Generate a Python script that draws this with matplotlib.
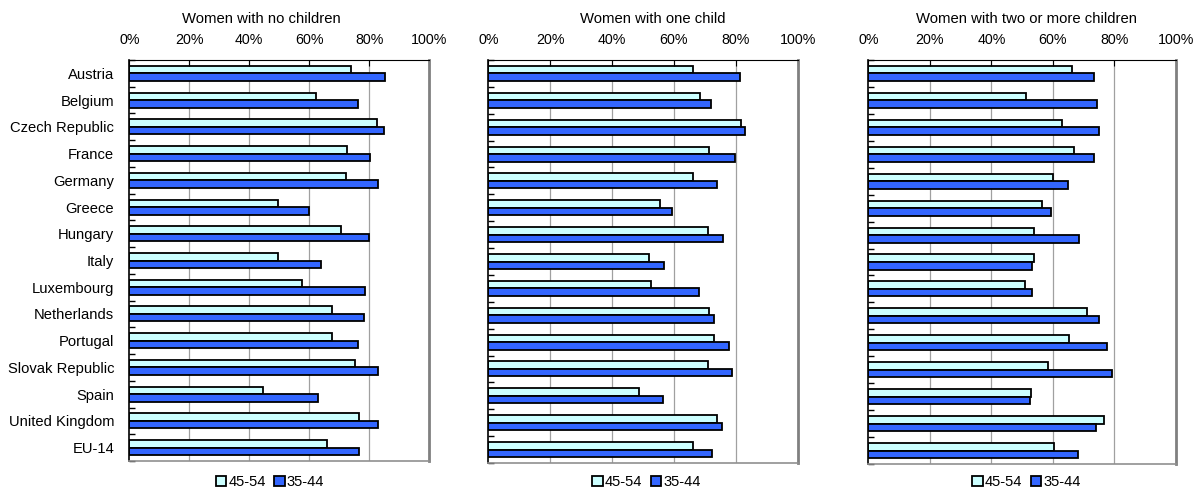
import matplotlib
matplotlib.use("Agg")
import matplotlib.pyplot as plt
import numpy as np

plt.rcParams['font.family'] = ['Liberation Sans', 'DejaVu Sans']

countries = ["Austria", "Belgium", "Czech Republic", "France", "Germany", "Greece",
             "Hungary", "Italy", "Luxembourg", "Netherlands", "Portugal",
             "Slovak Republic", "Spain", "United Kingdom", "EU-14"]

# share of women employed (%), by age group
no_child_4554 = [73.8, 62.1, 82.5, 72.7, 72.1, 49.6, 70.5, 49.6, 57.5, 67.7, 67.7, 75.1, 44.7, 76.6, 65.8]
no_child_3544 = [85.1, 76.2, 84.9, 80.2, 82.8, 59.9, 79.8, 63.9, 78.6, 78.1, 76.3, 82.9, 62.8, 83.0, 76.7]

one_child_4554 = [66.0, 68.3, 81.6, 71.4, 66.0, 55.6, 71.1, 51.9, 52.5, 71.3, 73.1, 71.0, 48.6, 73.8, 66.0]
one_child_3544 = [81.4, 72.0, 82.9, 79.7, 74.0, 59.5, 76.0, 56.9, 68.2, 73.1, 77.7, 78.8, 56.4, 75.5, 72.3]

two_child_4554 = [66.2, 51.2, 62.9, 66.8, 60.1, 56.5, 53.9, 53.8, 51.0, 71.0, 65.1, 58.5, 53.0, 76.6, 60.5]
two_child_3544 = [73.4, 74.4, 75.0, 73.5, 64.9, 59.5, 68.4, 53.3, 53.1, 75.1, 77.5, 79.3, 52.4, 74.1, 68.2]

titles = ["Women with no children", "Women with one child", "Women with two or more children"]
series = [(no_child_4554, no_child_3544), (one_child_4554, one_child_3544), (two_child_4554, two_child_3544)]

W, H = 1194, 488
fig = plt.figure(figsize=(W / 100, H / 100), dpi=100)

# pixel boxes: left, top, right, bottom
boxes = [(129.3, 60, 429.3, 461), (488.3, 60, 797.7, 463), (868.3, 60, 1176, 464)]
title_x = [261.7, 653, 1026.7]
legend_x = [270, 646.7, 1026.7]

light = "#CCFFFF"
dark = "#3366FF"
h = 0.28
y = np.arange(len(countries))

for k in range(3):
    l, t, r, b = boxes[k]
    ax = fig.add_axes([l / W, 1 - b / H, (r - l) / W, (b - t) / H])
    s1, s2 = series[k]
    ax.barh(y - h / 2, s1, height=h, color=light, edgecolor="black", linewidth=1.3, label="45-54")
    ax.barh(y + h / 2, s2, height=h, color=dark, edgecolor="black", linewidth=1.3, label="35-44")
    ax.set_xlim(0, 100)
    ax.set_ylim(len(countries) - 0.5, -0.5)
    ax.set_xticks(np.arange(0, 101, 20))
    ax.set_xticklabels([f"{v}%" for v in range(0, 101, 20)], fontsize=10.3)
    ax.xaxis.tick_top()
    ax.tick_params(axis="x", direction="in", length=4, pad=9, colors="black")
    for v in [20, 40, 60, 80]:
        ax.axvline(v, color="#A0A0A0", linewidth=0.9, zorder=0)
    ax.set_yticks(y)
    if k == 0:
        ax.set_yticklabels(countries, fontsize=10.6)
    else:
        ax.set_yticklabels([])
    ax.tick_params(axis="y", length=0, pad=11)
    ax.set_yticks(np.arange(-0.5, len(countries), 1), minor=True)
    ax.tick_params(axis="y", which="minor", direction="in", length=4, width=1)
    ax.spines["top"].set_color("black")
    ax.spines["left"].set_color("black")
    ax.spines["left"].set_linewidth(1.2)
    ax.spines["right"].set_color("#808080")
    ax.spines["right"].set_linewidth(2)
    ax.spines["bottom"].set_color("#909090")
    ax.spines["bottom"].set_linewidth(1.2)

    fig.text(title_x[k] / W, 1 - 19 / H, titles[k], ha="center", va="center", fontsize=10.7)
    fig.legend(*ax.get_legend_handles_labels(), loc="center", ncol=2,
               bbox_to_anchor=(legend_x[k] / W, 1 - 482 / H), frameon=False, fontsize=10.6,
               handlelength=0.7, handleheight=0.7, handletextpad=0.15, columnspacing=0.6,
               borderpad=0, borderaxespad=0)

fig.savefig("out.png", dpi=100)
